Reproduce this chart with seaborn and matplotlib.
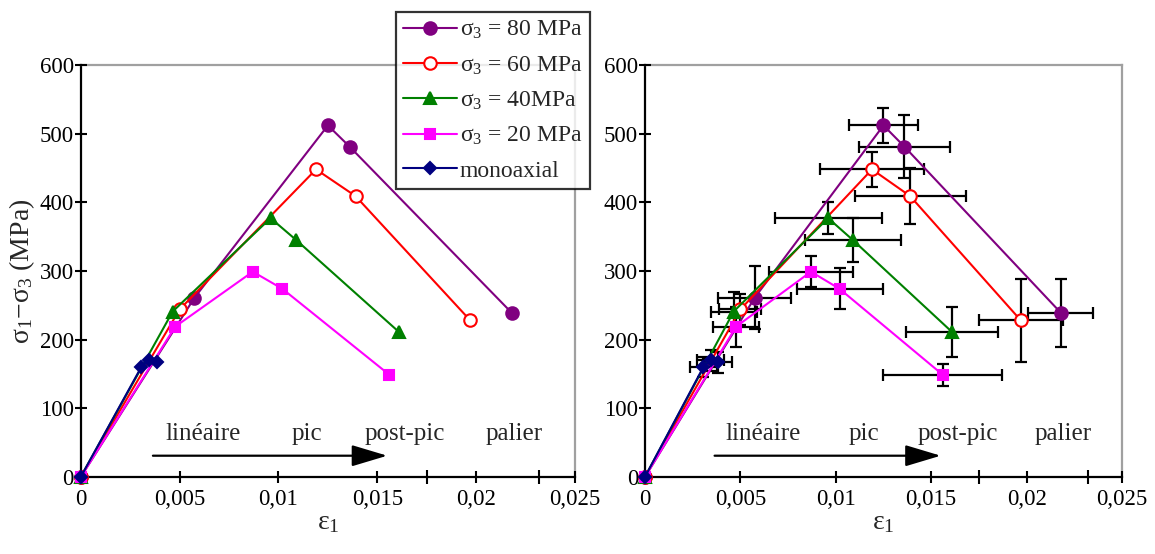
import numpy as np
import pandas as pd
import matplotlib
matplotlib.use('Agg')
import matplotlib.pyplot as plt
import seaborn as sns

# data
labels = ['σ$_3$ = 80 MPa', 'σ$_3$ = 60 MPa', 'σ$_3$ = 40MPa', 'σ$_3$ = 20 MPa', 'monoaxial']
colors = ['#800080', '#ff0000', '#008000', '#ff00ff', '#000080']

eps_80 = [0, 0.00575, 0.0125, 0.0136, 0.0218]
sig_80 = [0, 261, 512, 481, 239]
eps_60 = [0, 0.00500, 0.0119, 0.0139, 0.0197]
sig_60 = [0, 244, 448, 409, 228]
eps_40 = [0, 0.00465, 0.0096, 0.0109, 0.0161]
sig_40 = [0, 241, 377, 345, 211]
eps_20 = [0, 0.00478, 0.0087, 0.0102, 0.0156]
sig_20 = [0, 219, 299, 274, 149]
eps_mono = [0, 0.00306, 0.00345, 0.00385]
sig_mono = [0, 160, 170, 167]

# error bars (right plot)
xerr_80 = [0, 0.0019, 0.0018, 0.0024, 0.0017]
yerr_80 = [0, 46, 26, 46, 50]
xerr_60 = [0, 0.0011, 0.0027, 0.0029, 0.0022]
yerr_60 = [0, 22, 25, 41, 60]
xerr_40 = [0, 0.0012, 0.0028, 0.0025, 0.0024]
yerr_40 = [0, 28, 23, 32, 36]
xerr_20 = [0, 0.0012, 0.0022, 0.00225, 0.0031]
yerr_20 = [0, 29, 23, 30, 16]
xerr_mono = [0, 0.0007, 0.0007, 0.0007]
yerr_mono = [0, 15, 15, 15]

series = [
    (eps_80, sig_80, xerr_80, yerr_80, 'o', 9, 'full'),
    (eps_60, sig_60, xerr_60, yerr_60, 'o', 9, 'open'),
    (eps_40, sig_40, xerr_40, yerr_40, '^', 8, 'full'),
    (eps_20, sig_20, xerr_20, yerr_20, 's', 7.5, 'full'),
    (eps_mono, sig_mono, xerr_mono, yerr_mono, 'D', 6, 'full'),
]

xticks = [0, 0.005, 0.01, 0.015, 0.02, 0.025]
xticklabels = ['0', '0,005', '0,01', '0,015', '0,02', '0,025']
yticks = [0, 100, 200, 300, 400, 500, 600]
sep_ticks = [0.0175, 0.0232]

phases = ['linéaire', 'pic', 'post-pic', 'palier']
phase_x = [0.0062, 0.01146, 0.0164, 0.0219]

sns.set_style('ticks')
plt.rcParams['font.family'] = ['Liberation Serif', 'DejaVu Serif']
plt.rcParams['mathtext.fontset'] = 'custom'
plt.rcParams['mathtext.rm'] = 'Liberation Serif'
plt.rcParams['mathtext.it'] = 'Liberation Serif:italic'
plt.rcParams['mathtext.bf'] = 'Liberation Serif:bold'

fig = plt.figure(figsize=(11.55, 5.54), dpi=100)
ax1 = fig.add_axes([0.0699, 0.139, 0.428, 0.7437])
ax2 = fig.add_axes([0.5584, 0.139, 0.413, 0.7437])

handles = []
for ax, with_err in [(ax1, False), (ax2, True)]:
    for (ex, sy, xe, ye, mk, ms, fill), lab, c in zip(series, labels, colors):
        if with_err:
            ax.errorbar(ex, sy, xerr=xe, yerr=ye, fmt='none', ecolor='black',
                        elinewidth=1.6, capsize=4, capthick=1.6, zorder=1)
        df = pd.DataFrame({'eps': ex, 'sig': sy})
        mfc = 'white' if fill == 'open' else c
        sns.lineplot(data=df, x='eps', y='sig', ax=ax, color=c, lw=1.5,
                     marker=mk, ms=ms, mfc=mfc, mec=c, mew=1.5,
                     sort=False, estimator=None, legend=False, zorder=3,
                     clip_on=False)
        if ax is ax1:
            handles.append(ax.lines[-1])

    ax.set_xlim(0, 0.025)
    ax.set_ylim(0, 600)
    ax.set_xticks(xticks)
    ax.set_xticklabels(xticklabels)
    ax.set_xticks(sep_ticks, minor=True)
    ax.set_yticks(yticks)
    ax.tick_params(axis='both', direction='inout', length=8, width=1.5,
                   labelsize=16.5, colors='black')
    ax.tick_params(axis='x', which='minor', direction='inout', length=10,
                   width=1.5, colors='black')
    ax.tick_params(axis='y', pad=1)
    ax.tick_params(axis='x', pad=5)
    for s in ['left', 'bottom']:
        ax.spines[s].set_color('black')
        ax.spines[s].set_linewidth(1.6)
    for s in ['top', 'right']:
        ax.spines[s].set_visible(True)
        ax.spines[s].set_color('#a0a0a0')
        ax.spines[s].set_linewidth(1.6)
    ax.set_xlabel('ε$_1$', fontsize=20, labelpad=0)
    ax.set_ylabel('')
    for t, px in zip(phases, phase_x):
        ax.text(px, 62, t, fontsize=18, ha='center', va='center')
    ax.annotate('', xy=(0.0155, 31), xytext=(0.00365, 31),
                arrowprops=dict(arrowstyle='-|>,head_length=1.1,head_width=0.33',
                                mutation_scale=20, lw=1.6, color='black',
                                shrinkA=0, shrinkB=0))
    ax.set_axisbelow(False)

ax1.set_ylabel('σ$_1$−σ$_3$ (MPa)', fontsize=20, labelpad=2)

leg = fig.legend(handles, labels, loc='upper left',
                 bbox_to_anchor=(396 / 1155, 1 - 12 / 554),
                 fontsize=17, frameon=True, fancybox=False, handlelength=2.3,
                 handletextpad=0.1, borderpad=0.3, labelspacing=0.55,
                 borderaxespad=0)
leg.get_frame().set_edgecolor('black')
leg.get_frame().set_linewidth(1.6)

fig.savefig('out.png', dpi=100)
